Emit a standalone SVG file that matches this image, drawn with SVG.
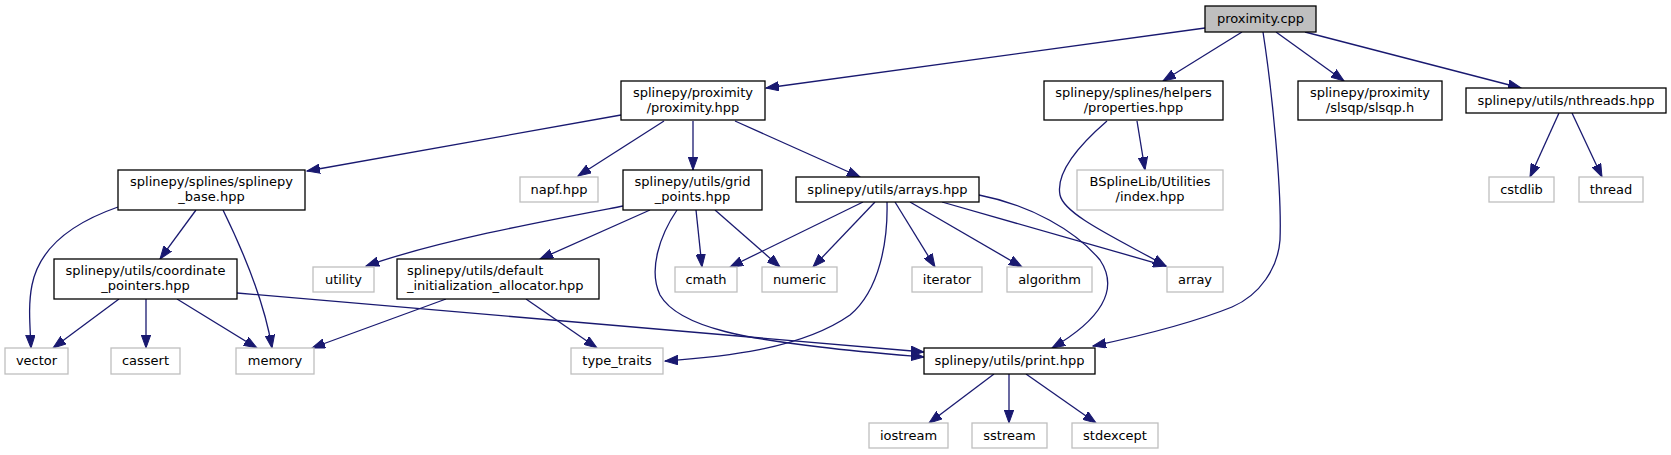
<svg xmlns="http://www.w3.org/2000/svg" width="1671" height="455" viewBox="0 0 1671 455">
<defs>
<style>
.n rect{fill:#ffffff;stroke:#000000;stroke-width:1.3}
.g rect{fill:#ffffff;stroke:#bfbfbf;stroke-width:1.3}
.r rect{fill:#bfbfbf;stroke:#000000;stroke-width:1.3}
text{font-family:"DejaVu Sans","Liberation Sans",sans-serif;font-size:13px;fill:#000000;text-anchor:middle}
.e path{fill:none;stroke:#191970;stroke-width:1.3;marker-end:url(#arr)}
</style>
<marker id="arr" markerUnits="userSpaceOnUse" markerWidth="14" markerHeight="10" viewBox="0 0 14 10" refX="13" refY="5" orient="auto">
<path d="M0,0.3 L13,5 L0,9.7 z" fill="#191970" stroke="#191970" stroke-width="1"/>
</marker>
</defs>
<rect width="1671" height="455" fill="#ffffff"/>
<g id="connectors" class="e">
<path d="M1205,28 L766,88"/>
<path d="M1242,32 L1163,81"/>
<path d="M1263,32 C1272,90 1282,190 1280,240 C1278,268 1260,295 1232,307 C1195,322 1140,336 1093,346"/>
<path d="M1276,32 L1344,81"/>
<path d="M1305,32 L1521,88"/>
<path d="M621,115 L307,171"/>
<path d="M664,121 L578,176"/>
<path d="M693,121 L693,170"/>
<path d="M735,121 L860,177"/>
<path d="M1137,121 L1145,170"/>
<path d="M1107,121 C1085,140 1055,170 1060,195 C1064,215 1120,240 1166,266"/>
<path d="M1559,113 L1530,177"/>
<path d="M1572,113 L1602,177"/>
<path d="M118,207 C75,222 40,245 32,285 C28,305 30,325 31,348"/>
<path d="M196,210 L160,259"/>
<path d="M223,210 C245,255 265,305 272,348"/>
<path d="M119,299 L53,348"/>
<path d="M146,299 L146,348"/>
<path d="M177,299 L257,348"/>
<path d="M237,293 L924,352"/>
<path d="M623,206 C555,219 440,240 366,266"/>
<path d="M650,210 L540,259"/>
<path d="M696,210 L702,267"/>
<path d="M715,210 L780,267"/>
<path d="M677,210 C660,235 648,270 660,295 C680,330 760,340 820,347 C860,352 900,355 924,357"/>
<path d="M446,299 L312,348"/>
<path d="M526,299 L597,348"/>
<path d="M863,202 L730,267"/>
<path d="M875,202 L813,267"/>
<path d="M887,202 C888,240 880,290 850,315 C800,350 720,357 665,361"/>
<path d="M895,202 L935,267"/>
<path d="M910,202 L1022,267"/>
<path d="M942,202 L1166,266"/>
<path d="M979,195 C1030,205 1075,230 1100,260 C1120,290 1100,320 1052,348"/>
<path d="M994,374 L929,423"/>
<path d="M1009,374 L1009,423"/>
<path d="M1026,374 L1096,423"/>
</g>
<g id="node-proximity-cpp" class="r"><rect x="1205" y="6" width="111" height="26"/><text x="1260.5" y="22.5">proximity.cpp</text></g>
<g id="node-proximity-hpp" class="n"><rect x="621" y="81" width="144" height="39"/><text x="693" y="97">splinepy/proximity</text><text x="693" y="111.5">/proximity.hpp</text></g>
<g id="node-properties" class="n"><rect x="1044" y="81" width="179" height="39"/><text x="1133.5" y="97">splinepy/splines/helpers</text><text x="1133.5" y="111.5">/properties.hpp</text></g>
<g id="node-slsqp" class="n"><rect x="1298" y="81" width="144" height="39"/><text x="1370" y="97">splinepy/proximity</text><text x="1370" y="111.5">/slsqp/slsqp.h</text></g>
<g id="node-nthreads" class="n"><rect x="1466" y="88" width="200" height="25"/><text x="1566" y="104.5">splinepy/utils/nthreads.hpp</text></g>
<g id="node-splinepy-base" class="n"><rect x="118" y="170" width="187" height="40"/><text x="211.5" y="186">splinepy/splines/splinepy</text><text x="211.5" y="200.5">_base.hpp</text></g>
<g id="node-napf" class="g"><rect x="520" y="177" width="78" height="25"/><text x="559" y="193.5">napf.hpp</text></g>
<g id="node-grid-points" class="n"><rect x="623" y="170" width="139" height="40"/><text x="692.5" y="186">splinepy/utils/grid</text><text x="692.5" y="200.5">_points.hpp</text></g>
<g id="node-arrays" class="n"><rect x="796" y="177" width="183" height="25"/><text x="887.5" y="193.5">splinepy/utils/arrays.hpp</text></g>
<g id="node-index" class="g"><rect x="1077" y="170" width="146" height="40"/><text x="1150" y="186">BSplineLib/Utilities</text><text x="1150" y="200.5">/index.hpp</text></g>
<g id="node-cstdlib" class="g"><rect x="1489" y="177" width="65" height="25"/><text x="1521.5" y="193.5">cstdlib</text></g>
<g id="node-thread" class="g"><rect x="1579" y="177" width="64" height="25"/><text x="1611" y="193.5">thread</text></g>
<g id="node-coordinate-pointers" class="n"><rect x="54" y="259" width="183" height="40"/><text x="145.5" y="275">splinepy/utils/coordinate</text><text x="145.5" y="289.5">_pointers.hpp</text></g>
<g id="node-utility" class="g"><rect x="313" y="267" width="61" height="25"/><text x="343.5" y="283.5">utility</text></g>
<g id="node-default-init" class="n"><rect x="397" y="259" width="202" height="40"/><text x="407" y="275" style="text-anchor:start">splinepy/utils/default</text><text x="407" y="289.5" style="text-anchor:start">_initialization_allocator.hpp</text></g>
<g id="node-cmath" class="g"><rect x="675" y="267" width="62" height="25"/><text x="706" y="283.5">cmath</text></g>
<g id="node-numeric" class="g"><rect x="762" y="267" width="75" height="25"/><text x="799.5" y="283.5">numeric</text></g>
<g id="node-iterator" class="g"><rect x="912" y="267" width="70" height="25"/><text x="947" y="283.5">iterator</text></g>
<g id="node-algorithm" class="g"><rect x="1007" y="267" width="85" height="25"/><text x="1049.5" y="283.5">algorithm</text></g>
<g id="node-array" class="g"><rect x="1167" y="267" width="56" height="25"/><text x="1195" y="283.5">array</text></g>
<g id="node-vector" class="g"><rect x="5" y="348" width="63" height="26"/><text x="36.5" y="365">vector</text></g>
<g id="node-cassert" class="g"><rect x="111" y="348" width="69" height="26"/><text x="145.5" y="365">cassert</text></g>
<g id="node-memory" class="g"><rect x="236" y="348" width="78" height="26"/><text x="275" y="365">memory</text></g>
<g id="node-type-traits" class="g"><rect x="571" y="348" width="92" height="26"/><text x="617" y="365">type_traits</text></g>
<g id="node-print" class="n"><rect x="924" y="348" width="171" height="26"/><text x="1009.5" y="365">splinepy/utils/print.hpp</text></g>
<g id="node-iostream" class="g"><rect x="869" y="423" width="79" height="25"/><text x="908.5" y="439.5">iostream</text></g>
<g id="node-sstream" class="g"><rect x="972" y="423" width="75" height="25"/><text x="1009.5" y="439.5">sstream</text></g>
<g id="node-stdexcept" class="g"><rect x="1072" y="423" width="86" height="25"/><text x="1115" y="439.5">stdexcept</text></g>
</svg>
